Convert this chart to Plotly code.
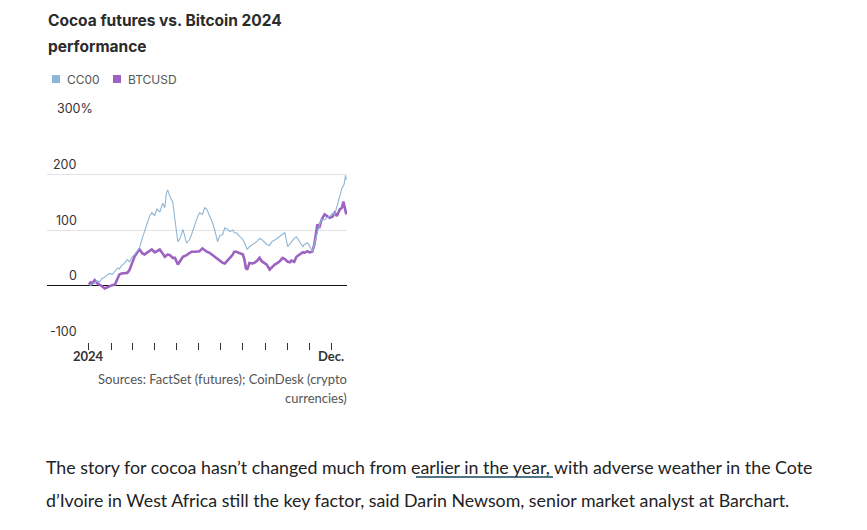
import plotly.graph_objects as go

# ---- data ----
cc_dates = ["2024-01-02","2024-01-05","2024-01-09","2024-01-12","2024-01-16","2024-01-19","2024-01-23","2024-01-26","2024-01-30",
            "2024-02-02","2024-02-06","2024-02-10","2024-02-12","2024-02-15","2024-02-19","2024-02-23","2024-02-26",
            "2024-03-01","2024-03-04","2024-03-08","2024-03-11","2024-03-15","2024-03-18","2024-03-21","2024-03-25","2024-03-28",
            "2024-04-01","2024-04-04","2024-04-08","2024-04-12","2024-04-15","2024-04-17","2024-04-19","2024-04-22","2024-04-26","2024-04-29",
            "2024-05-03","2024-05-06","2024-05-10","2024-05-15","2024-05-19","2024-05-22","2024-05-26","2024-05-29",
            "2024-06-02","2024-06-06","2024-06-09","2024-06-12","2024-06-16","2024-06-20","2024-06-23","2024-06-27","2024-06-30",
            "2024-07-04","2024-07-07","2024-07-11","2024-07-14","2024-07-18","2024-07-20","2024-07-23","2024-07-28",
            "2024-08-01","2024-08-03","2024-08-07","2024-08-10","2024-08-14","2024-08-17","2024-08-21","2024-08-24","2024-08-27","2024-08-31",
            "2024-09-03","2024-09-07","2024-09-10","2024-09-14","2024-09-18","2024-09-21","2024-09-25","2024-09-28",
            "2024-10-02","2024-10-05","2024-10-07","2024-10-11","2024-10-14","2024-10-18","2024-10-23","2024-10-25","2024-10-29",
            "2024-11-01","2024-11-05","2024-11-08","2024-11-12","2024-11-15","2024-11-18","2024-11-22","2024-11-25","2024-11-29",
            "2024-12-03","2024-12-06","2024-12-09","2024-12-13","2024-12-16","2024-12-19","2024-12-21","2024-12-22"]
cc_values = [0, 2, 5, 9, 7, 13, 15, 19, 22,
             20, 27, 32, 30, 36, 40, 47, 43,
             52, 56, 62, 68, 86, 98, 106, 125, 131,
             126, 138, 132, 148, 140, 165, 172, 160, 150, 118,
             79, 85, 101, 77, 82, 92, 110, 119,
             131, 128, 140, 137, 125, 113, 100, 79, 90,
             92, 104, 101, 97, 100, 95, 95, 88,
             83, 78, 65, 70, 74, 76, 80, 85, 83, 78,
             74, 72, 79, 82, 86, 88, 92, 95,
             70, 75, 79, 85, 88, 80, 70, 74, 77,
             72, 61, 75, 95, 110, 119, 118, 122, 124,
             130, 128, 142, 164, 175, 182, 198, 190]

btc_dates = ["2024-01-01","2024-01-03","2024-01-05","2024-01-09","2024-01-12","2024-01-16","2024-01-19","2024-01-23","2024-01-26","2024-01-30",
             "2024-02-02","2024-02-06","2024-02-10","2024-02-12","2024-02-15","2024-02-19","2024-02-23","2024-02-26",
             "2024-03-01","2024-03-04","2024-03-08","2024-03-11","2024-03-15","2024-03-18","2024-03-21","2024-03-25","2024-03-28",
             "2024-04-01","2024-04-04","2024-04-08","2024-04-12","2024-04-15","2024-04-19","2024-04-22","2024-04-26","2024-04-29",
             "2024-05-03","2024-05-06","2024-05-10","2024-05-15","2024-05-19","2024-05-22","2024-05-26","2024-05-29",
             "2024-06-02","2024-06-06","2024-06-09","2024-06-12","2024-06-16","2024-06-20","2024-06-23","2024-06-27","2024-06-30",
             "2024-07-04","2024-07-07","2024-07-11","2024-07-14","2024-07-18","2024-07-20","2024-07-23","2024-07-28",
             "2024-08-01","2024-08-03","2024-08-05","2024-08-07","2024-08-10","2024-08-14","2024-08-17","2024-08-21","2024-08-24","2024-08-27","2024-08-31",
             "2024-09-03","2024-09-07","2024-09-10","2024-09-14","2024-09-18","2024-09-21","2024-09-25","2024-09-28",
             "2024-10-02","2024-10-05","2024-10-07","2024-10-11","2024-10-14","2024-10-18","2024-10-23","2024-10-25","2024-10-29",
             "2024-11-01","2024-11-05","2024-11-08","2024-11-12","2024-11-15","2024-11-18","2024-11-22","2024-11-25","2024-11-29",
             "2024-12-03","2024-12-06","2024-12-09","2024-12-13","2024-12-16","2024-12-18","2024-12-20","2024-12-22"]
btc_values = [2, 6, 4, 10, 5, 2, -1, -5, -3, 0,
              1, 2, 14, 20, 22, 23, 23, 28,
              40, 52, 60, 65, 58, 56, 59, 63, 65,
              60, 62, 65, 58, 52, 56, 55, 50, 50,
              38, 45, 52, 55, 59, 61, 61, 62,
              62, 67, 64, 61, 59, 55, 52, 47, 44,
              41, 40, 45, 50, 56, 61, 61, 59,
              56, 48, 32, 29, 41, 40, 41, 45, 50, 44, 40,
              38, 29, 33, 38, 41, 44, 50, 48,
              43, 42, 45, 43, 52, 55, 60, 59, 62,
              60, 61, 75, 110, 106, 119, 128, 125, 122,
              124, 131, 125, 137, 140, 151, 140, 128]

series_names = ["CC00", "BTCUSD"]
month_ticks = ["2024-%02d-01" % m for m in range(1, 13)]
x_label_dates = ["2024-01-01", "2024-12-01"]
x_label_texts = ["2024", "Dec."]
y_grid = [-100, 100, 200, 300]
y_labels = {200: "200", 100: "100", 0: "0", -100: "-100"}
y_top_label = "300%"

title_lines = ["Cocoa futures vs. Bitcoin 2024", "performance"]
source_lines = ["Sources: FactSet (futures); CoinDesk (crypto", "currencies)"]
para_lines = ["The story for cocoa hasn\u2019t changed much from earlier in the year, with adverse weather in the Cote",
              "d\u2019Ivoire in West Africa still the key factor, said Darin Newsom, senior market analyst at Barchart."]

CC_COLOR = "#8db6d6"
BTC_COLOR = "#9e62c0"

# ---- layout geometry (reference pixels; page has an 8px body margin) ----
OFF = 8
PW, PH = 867, 530
W, H = PW - OFF, PH - OFF
L, R, T, B = 47, 347, 118, 342


def px_x(px):
    return (px - L) / (R - L)


def px_y(py):
    return (B - py) / (B - T)


fig = go.Figure()
fig.add_trace(go.Scatter(x=btc_dates, y=btc_values, mode="lines", name=series_names[1],
                         line=dict(color=BTC_COLOR, width=2.6), hoverinfo="skip"))
fig.add_trace(go.Scatter(x=cc_dates, y=cc_values, mode="lines", name=series_names[0],
                         line=dict(color=CC_COLOR, width=1.1), hoverinfo="skip"))

ann = []
shapes = []
# title
for i, t in enumerate(title_lines):
    ann.append(dict(text="<b>%s</b>" % t, xref="paper", yref="paper", x=px_x(46), y=px_y(20 + 26 * i),
                    xanchor="left", yanchor="middle", showarrow=False,
                    font=dict(family="Inter", size=15.5, color="#2b2b2b")))

# legend
legend_items = [(52, series_names[0], CC_COLOR, 68), (113, series_names[1], BTC_COLOR, 129)]
for sx, name, col, tx in legend_items:
    shapes.append(dict(type="rect", xref="paper", yref="paper", x0=px_x(sx), x1=px_x(sx + 8),
                       y0=px_y(75), y1=px_y(83), fillcolor=col, line=dict(width=0)))
    ann.append(dict(text=name, xref="paper", yref="paper", x=px_x(tx - 3), y=px_y(79),
                    xanchor="left", yanchor="middle", showarrow=False,
                    font=dict(family="Inter", size=12, color="#555")))

# y tick labels above grid lines
for v, lab in y_labels.items():
    ann.append(dict(text=lab, xref="paper", yref="y", x=px_x(79), y=v, yshift=10,
                    xanchor="right", yanchor="middle", showarrow=False,
                    font=dict(family="Inter", size=12.5, color="#333")))
ann.append(dict(text=y_top_label, xref="paper", yref="y", x=px_x(55), y=300, yshift=10,
                xanchor="left", yanchor="middle", showarrow=False,
                font=dict(family="Inter", size=12.5, color="#333")))

# x labels
for d, t in zip(x_label_dates, x_label_texts):
    ann.append(dict(text="<b>%s</b>" % t, xref="x", yref="paper", x=d, y=px_y(356),
                    xanchor="center", yanchor="middle", showarrow=False,
                    font=dict(family="Lato", size=13, color="#333")))

# sources
for i, s in enumerate(source_lines):
    ann.append(dict(text=s, xref="paper", yref="paper", x=px_x(349), y=px_y(379 + 19 * i),
                    xanchor="right", yanchor="middle", showarrow=False,
                    font=dict(family="Lato", size=13, color="#555")))

# paragraph
for i, s in enumerate(para_lines):
    ann.append(dict(text=s, xref="paper", yref="paper", x=px_x(44), y=px_y(467 + 33 * i),
                    xanchor="left", yanchor="middle", showarrow=False,
                    font=dict(family="Lato", size=17.8, color="#222")))
shapes.append(dict(type="line", xref="paper", yref="paper", x0=px_x(416), x1=px_x(553),
                   y0=px_y(477), y1=px_y(477), line=dict(color="#4d7585", width=2)))

fig.update_layout(
    width=W, height=H,
    margin=dict(l=L - OFF, r=PW - R, t=T - OFF, b=PH - B, pad=0),
    paper_bgcolor="white", plot_bgcolor="white",
    showlegend=False,
    annotations=ann, shapes=shapes,
    xaxis=dict(type="date", range=["2023-11-04", "2024-12-23"], tickvals=month_ticks,
               ticktext=[""] * len(month_ticks),
               ticks="outside", ticklen=7, tickcolor="#333", tickwidth=1, showgrid=False, showline=False,
               zeroline=False),
    yaxis=dict(range=[-101, 301], tickvals=y_grid, showticklabels=False, showgrid=True,
               gridcolor="#e3e3e3", gridwidth=1, zeroline=True, zerolinecolor="#111", zerolinewidth=1.3,
               showline=False, ticks=""),
)

fig.write_html("out.html")
